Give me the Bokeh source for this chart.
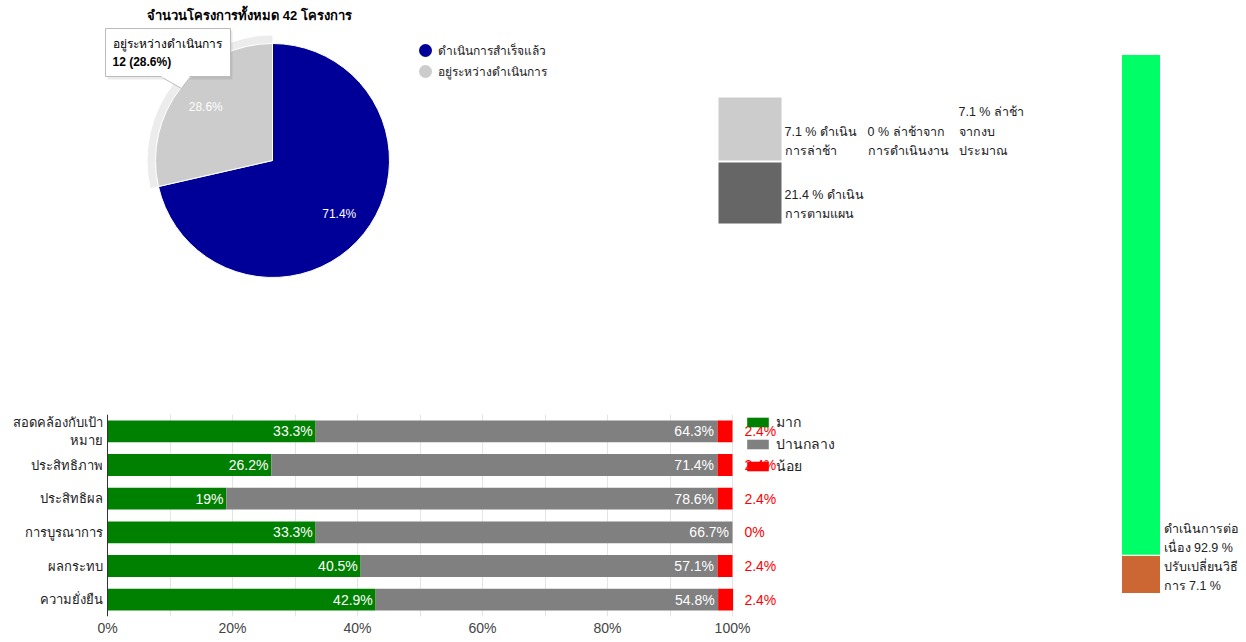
import math
from bokeh.plotting import figure
from bokeh.layouts import row, column
from bokeh.models import Range1d, FactorRange, FixedTicker, Legend, LegendItem, ColumnDataSource, Span
from bokeh.core.properties import value
from bokeh.embed import file_html
from bokeh.resources import INLINE

FONT = "Liberation Sans"
TXT = "#222222"

# ---------------- data ----------------
pie_title = "จำนวนโครงการทั้งหมด 42 โครงการ"
pie_labels = ["ดำเนินการสำเร็จแล้ว", "อยู่ระหว่างดำเนินการ"]
pie_counts = [30, 12]
pie_colors = ["#000099", "#cccccc"]
pie_selected = 1  # slice with tooltip / hover ring

tm_labels = ["7.1 % ดำเนิน\nการล่าช้า", "0 % ล่าช้าจาก\nการดำเนินงาน",
             "7.1 % ล่าช้า\nจากงบ\nประมาณ", "21.4 % ดำเนิน\nการตามแผน"]
tm_col = [0, 1, 2, 0]
tm_row = [0, 0, 0, 1]
tm_colors = ["#cccccc", "#ffffff", "#ffffff", "#666666"]
tm_alpha = [1, 0, 0, 1]

criteria = ["สอดคล้องกับเป้าหมาย", "ประสิทธิภาพ", "ประสิทธิผล", "การบูรณาการ", "ผลกระทบ", "ความยั่งยืน"]
criteria_text = ["สอดคล้องกับเป้า\nหมาย", "ประสิทธิภาพ", "ประสิทธิผล", "การบูรณาการ", "ผลกระทบ", "ความยั่งยืน"]
levels = ["มาก", "ปานกลาง", "น้อย"]
level_colors = ["#008000", "#808080", "#ff0000"]
high = [33.3, 26.2, 19.0, 33.3, 40.5, 42.9]
mid = [64.3, 71.4, 78.6, 66.7, 57.1, 54.8]
low = [2.4, 2.4, 2.4, 0.0, 2.4, 2.4]
x_ticks = [0, 20, 40, 60, 80, 100]

status_labels = ["ปรับเปลี่ยนวิธี\nการ 7.1 %", "ดำเนินการต่อ\nเนื่อง 92.9 %"]
status_values = [7.1, 92.9]
status_colors = ["#cc6633", "#00ff66"]


def base_fig(w, h, xr, yr, **kw):
    p = figure(width=w, height=h, x_range=xr, y_range=yr, toolbar_location=None,
               output_backend="svg", x_axis_location=None, y_axis_location=None,
               min_border=0, outline_line_color=None, **kw)
    p.grid.visible = False
    return p

# ---------------- pie (page x 0..708, y 0..400) ----------------
pie = base_fig(708, 400, Range1d(-8, 700), Range1d(0, 400))
cx, cy, R = 264, 240, 117
total = sum(pie_counts)
cum = 0
starts, ends, mids, pct = [], [], [], []
for c in pie_counts:
    a0 = 90 - cum / total * 360
    cum += c
    a1 = 90 - cum / total * 360
    starts.append(math.radians(a0)); ends.append(math.radians(a1))
    mids.append(math.radians((a0 + a1) / 2)); pct.append(f"{c / total * 100:.1f}%")

# hover ring on selected slice
pie.annular_wedge(x=cx, y=cy, inner_radius=R, outer_radius=R + 8,
                  start_angle=starts[pie_selected], end_angle=ends[pie_selected],
                  direction="clock", fill_color="#ececec", line_color=None)
pie.wedge(x=cx, y=cy, radius=R, start_angle=starts, end_angle=ends, direction="clock",
          fill_color=pie_colors, line_color="white", line_width=1)
lr = 0.73 * R
pie.text(x=[cx + lr * math.cos(m) for m in mids], y=[cy + lr * math.sin(m) for m in mids],
         text=pct, text_color="white", text_font=value(FONT), text_font_size="12px",
         text_align="center", text_baseline="middle")
pie.text(x=[241], y=[385], text=[pie_title], text_font=value(FONT), text_font_size="13px",
         text_font_style="bold", text_color="#000000", text_align="center", text_baseline="middle")
# legend
leg_y = [350, 329]
pie.scatter(x=[417, 417], y=leg_y, size=13, marker="circle", fill_color=pie_colors, line_color=None)
pie.text(x=[429, 429], y=leg_y, text=pie_labels, text_font=value(FONT), text_font_size="12px",
         text_color=TXT, text_align="left", text_baseline="middle")
# tooltip
pie.quad(left=[99], right=[224], top=[370], bottom=[321], fill_color="#000000", fill_alpha=0.08, line_color=None)
pie.patch(x=[152, 182, 173], y=[324, 324, 312], fill_color="white", line_color="#bbbbbb")
pie.quad(left=[97], right=[222], top=[372], bottom=[324], fill_color="white", line_color="#bbbbbb")
pie.segment(x0=[153], y0=[324], x1=[181], y1=[324], line_color="white", line_width=2)
pie.text(x=[104], y=[357], text=[pie_labels[pie_selected]], text_font=value(FONT), text_font_size="12px",
         text_color="#000000", text_baseline="middle")
pie.text(x=[104], y=[339], text=[f"{pie_counts[pie_selected]} ({pct[pie_selected]})"], text_font=value(FONT),
         text_font_size="12px", text_font_style="bold", text_color="#000000", text_baseline="middle")

# ---------------- treemap-like block (page x 708..1100, y 0..400) ----------------
tm = base_fig(392, 400, Range1d(0, 392), Range1d(0, 400))
col_left = [10, 93, 184]
row_top = [303, 238]
row_bot = [240, 177]
cw = 63
lefts = [col_left[c] for c in tm_col]
tm.quad(left=lefts, right=[l + cw for l in lefts], top=[row_top[r] for r in tm_row],
        bottom=[row_bot[r] for r in tm_row], fill_color=tm_colors, fill_alpha=tm_alpha, line_color=None)
tm.text(x=[l + cw + 3 for l in lefts], y=[row_bot[r] + 2 for r in tm_row], text=tm_labels,
        text_font=value(FONT), text_font_size="12.5px", text_color=TXT, text_align="left",
        text_baseline="bottom", text_line_height=1.4)

# ---------------- stacked bars (page x 0..1100, y 400..642) ----------------
BW, BH = 1100, 242
ppu = 6.25
x0 = -107 / ppu
bars = figure(width=BW, height=BH, x_range=Range1d(x0, x0 + BW / ppu),
              y_range=FactorRange(factors=list(reversed(criteria)), range_padding=0),
              toolbar_location=None, output_backend="svg", y_axis_location=None,
              min_border_left=0, min_border_right=0, min_border_top=14, min_border_bottom=26,
              outline_line_color=None)
src = ColumnDataSource(dict(cat=criteria, high=high, mid=mid, low=low))
rs = bars.hbar_stack(["high", "mid", "low"], y="cat", height=0.65, color=level_colors,
                     source=src, line_color=None)
bars.ygrid.visible = False
bars.xgrid.ticker = FixedTicker(ticks=list(range(0, 101, 10)))
bars.xgrid.grid_line_color = "#e4e4e4"
bars.xaxis.ticker = FixedTicker(ticks=x_ticks)
bars.xaxis.major_label_overrides = {t: f"{t}%" for t in x_ticks}
bars.xaxis.axis_line_color = None
bars.xaxis.major_tick_line_color = None
bars.xaxis.minor_tick_line_color = None
bars.xaxis.major_tick_out = 0
bars.xaxis.major_tick_in = 0
bars.xaxis.major_label_standoff = 3
bars.xaxis.major_label_text_font = FONT
bars.xaxis.major_label_text_font_size = "14px"
bars.xaxis.major_label_text_color = "#444444"
bars.add_layout(Span(location=0, dimension="height", line_color="#333333", line_width=1))

hi_end = high
mid_end = [h + m for h, m in zip(high, mid)]
bars.text(x=[e - 0.45 for e in hi_end], y=criteria, text=[f"{v:g}%" for v in high], text_color="white",
          text_font=value(FONT), text_font_size="14px", text_align="right", text_baseline="middle")
bars.text(x=[e - 0.55 for e in mid_end], y=criteria, text=[f"{v:g}%" for v in mid], text_color="white",
          text_font=value(FONT), text_font_size="14px", text_align="right", text_baseline="middle")
bars.text(x=[101.9] * len(low), y=criteria, text=[f"{v:g}%" for v in low], text_color="#ff0000",
          text_font=value(FONT), text_font_size="14px", text_align="left", text_baseline="middle")
bars.text(x=[-0.7] * len(criteria), y=criteria, text=criteria_text, text_color=TXT,
          text_font=value(FONT), text_font_size="13px", text_align="right", text_baseline="middle",
          text_line_height=1.2)
legend = Legend(items=[LegendItem(label=l, renderers=[r]) for l, r in zip(levels, rs)],
                location=(744, 139), background_fill_alpha=0, border_line_alpha=0,
                padding=0, margin=0, glyph_width=27, glyph_height=12, label_height=21,
                spacing=0, label_standoff=5, label_text_font=FONT, label_text_font_size="14px",
                label_text_color=TXT)
bars.add_layout(legend)

# ---------------- right status column (page x 1100..1238, y 0..642) ----------------
RW, RH = 138, 642
rpx = 5.39
ry0 = -(642 - 593) / rpx
right = base_fig(RW, RH, Range1d(0, RW), Range1d(ry0, ry0 + RH / rpx))
s_bot, s_top, acc = [], [], 0
for v in status_values:
    s_bot.append(acc); acc += v; s_top.append(acc)
right.vbar(x=40.5, width=39, bottom=s_bot, top=s_top, fill_color=status_colors,
           line_color="white", line_width=1)
right.text(x=[63, 63], y=s_bot, text=status_labels, text_font=value(FONT), text_font_size="12.5px",
           text_color=TXT, text_align="left", text_baseline="bottom", text_line_height=1.4)

layout = row(column(row(pie, tm), bars), right)
open("out.html", "w").write(file_html(layout, INLINE))
